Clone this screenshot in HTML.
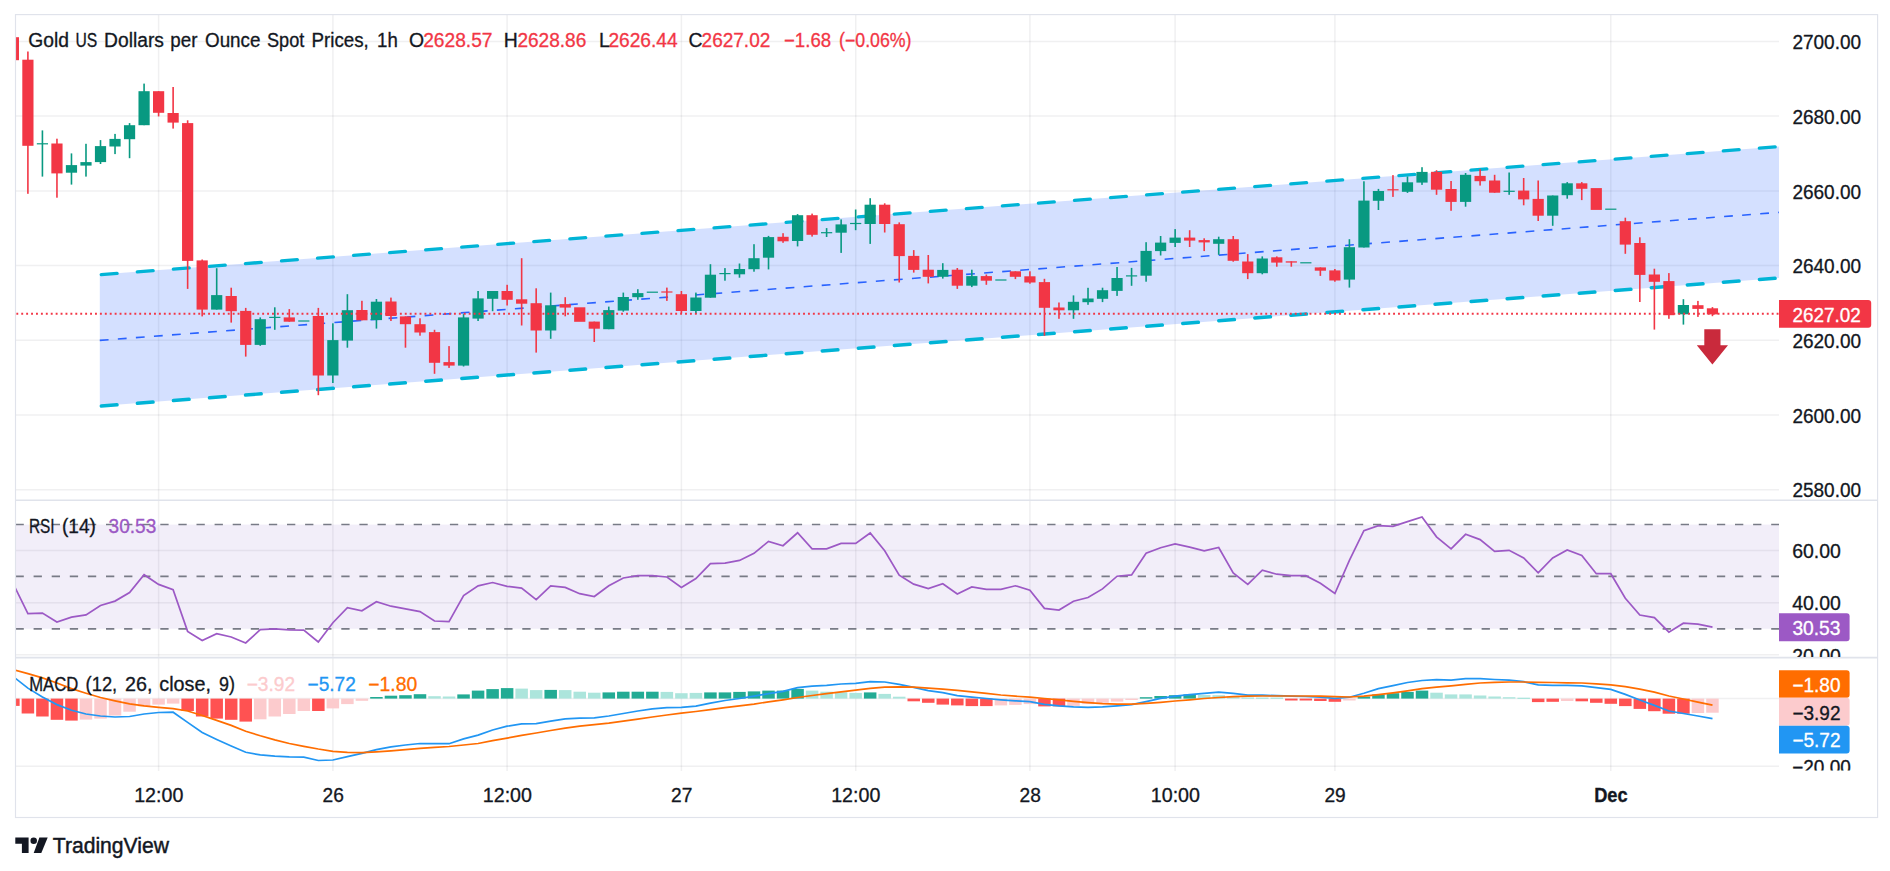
<!DOCTYPE html>
<html lang="en"><head><meta charset="utf-8"><title>Gold US Dollars per Ounce Spot Prices, 1h</title>
<style>html,body{margin:0;padding:0;background:#fff;overflow:hidden}svg{display:block}</style></head>
<body>
<svg width="1890" height="871" viewBox="0 0 1890 871" font-family="'Liberation Sans', Arial, sans-serif" font-size="19.4" fill="#131722">
<defs><clipPath id="cp"><rect x="15.0" y="14.3" width="1764.0" height="756.5"/></clipPath><clipPath id="cr"><rect x="1779.0" y="658.3" width="98.59999999999991" height="112.30000000000007"/></clipPath><clipPath id="cq"><rect x="1779.0" y="500" width="98.59999999999991" height="157.0"/></clipPath></defs>
<rect width="1890" height="871" fill="#fff"/>
<g stroke="#2a2e39" stroke-opacity="0.07" stroke-width="1.5">
<line x1="15.0" y1="41.4" x2="1779.0" y2="41.4"/>
<line x1="15.0" y1="116.1" x2="1779.0" y2="116.1"/>
<line x1="15.0" y1="190.9" x2="1779.0" y2="190.9"/>
<line x1="15.0" y1="265.6" x2="1779.0" y2="265.6"/>
<line x1="15.0" y1="340.3" x2="1779.0" y2="340.3"/>
<line x1="15.0" y1="415.0" x2="1779.0" y2="415.0"/>
<line x1="15.0" y1="489.7" x2="1779.0" y2="489.7"/>
<line x1="15.0" y1="550.6" x2="1779.0" y2="550.6"/>
<line x1="15.0" y1="602.7" x2="1779.0" y2="602.7"/>
<line x1="15.0" y1="654.8" x2="1779.0" y2="654.8"/>
<line x1="15.0" y1="698.4" x2="1779.0" y2="698.4"/>
<line x1="15.0" y1="766.2" x2="1779.0" y2="766.2"/>
<line x1="158.6" y1="14.3" x2="158.6" y2="771"/>
<line x1="332.9" y1="14.3" x2="332.9" y2="771"/>
<line x1="507.1" y1="14.3" x2="507.1" y2="771"/>
<line x1="681.4" y1="14.3" x2="681.4" y2="771"/>
<line x1="855.7" y1="14.3" x2="855.7" y2="771"/>
<line x1="1029.9" y1="14.3" x2="1029.9" y2="771"/>
<line x1="1175.1" y1="14.3" x2="1175.1" y2="771"/>
<line x1="1334.9" y1="14.3" x2="1334.9" y2="771"/>
<line x1="1610.8" y1="14.3" x2="1610.8" y2="771"/>
</g>
<g clip-path="url(#cp)">
<rect x="15.0" y="524.6" width="1764.0" height="104.19999999999993" fill="#7e57c2" fill-opacity="0.1"/>
<g stroke="#787b86" stroke-width="1.7" stroke-dasharray="8.3 9.8">
<line x1="15.5" y1="524.5" x2="1779.0" y2="524.5"/>
<line x1="15.5" y1="576.3" x2="1779.0" y2="576.3"/>
<line x1="15.5" y1="628.8" x2="1779.0" y2="628.8"/>
</g>
<polygon points="99.8,274.6 1779.0,146.58 1779.0,277.98 99.8,406.0" fill="#2962ff" fill-opacity="0.2"/>
<g stroke="#00b4d6" stroke-width="3.4" stroke-linecap="round" stroke-dasharray="15.8 20.35">
<line x1="101.3" y1="274.6" x2="1779.0" y2="146.58"/>
<line x1="101.3" y1="406.0" x2="1779.0" y2="277.98"/>
</g>
<line x1="99.8" y1="340.4" x2="1779.0" y2="212.38" stroke="#2962ff" stroke-width="1.6" stroke-dasharray="8.8 9.3"/>
<g fill="#f23645">
<rect x="7.78" y="37.2" width="11.2" height="23.0"/>
<rect x="27.10" y="51.5" width="1.6" height="142.3"/>
<rect x="22.30" y="59.7" width="11.2" height="86.1"/>
<rect x="56.15" y="138.7" width="1.6" height="59.0"/>
<rect x="51.35" y="143.5" width="11.2" height="29.9"/>
<rect x="157.80" y="91.2" width="1.6" height="25.2"/>
<rect x="153.00" y="91.2" width="11.2" height="21.6"/>
<rect x="172.32" y="87.0" width="1.6" height="41.6"/>
<rect x="167.52" y="113.0" width="11.2" height="9.6"/>
<rect x="186.84" y="120.3" width="1.6" height="168.6"/>
<rect x="182.04" y="123.1" width="11.2" height="137.8"/>
<rect x="201.37" y="259.5" width="1.6" height="56.9"/>
<rect x="196.57" y="260.4" width="11.2" height="49.2"/>
<rect x="230.41" y="287.7" width="1.6" height="34.9"/>
<rect x="225.61" y="296.0" width="11.2" height="15.2"/>
<rect x="244.93" y="307.9" width="1.6" height="48.7"/>
<rect x="240.13" y="310.9" width="11.2" height="34.0"/>
<rect x="288.50" y="309.1" width="1.6" height="12.6"/>
<rect x="283.70" y="317.4" width="11.2" height="4.3"/>
<rect x="317.54" y="307.9" width="1.6" height="87.3"/>
<rect x="312.74" y="316.0" width="11.2" height="59.5"/>
<rect x="361.11" y="300.8" width="1.6" height="19.5"/>
<rect x="356.31" y="310.0" width="11.2" height="10.3"/>
<rect x="390.15" y="297.6" width="1.6" height="23.4"/>
<rect x="385.35" y="301.5" width="11.2" height="14.5"/>
<rect x="404.67" y="316.4" width="1.6" height="31.3"/>
<rect x="399.87" y="316.4" width="11.2" height="7.8"/>
<rect x="419.20" y="318.3" width="1.6" height="17.4"/>
<rect x="414.40" y="324.2" width="11.2" height="8.3"/>
<rect x="433.72" y="329.8" width="1.6" height="44.0"/>
<rect x="428.92" y="332.1" width="11.2" height="30.7"/>
<rect x="448.24" y="346.1" width="1.6" height="21.8"/>
<rect x="443.44" y="362.1" width="11.2" height="3.5"/>
<rect x="506.33" y="284.8" width="1.6" height="20.7"/>
<rect x="501.53" y="291.0" width="11.2" height="8.8"/>
<rect x="520.85" y="258.2" width="1.6" height="67.3"/>
<rect x="516.05" y="299.3" width="11.2" height="4.4"/>
<rect x="535.37" y="288.3" width="1.6" height="64.3"/>
<rect x="530.57" y="303.2" width="11.2" height="27.3"/>
<rect x="564.42" y="297.2" width="1.6" height="19.1"/>
<rect x="559.62" y="304.1" width="11.2" height="3.5"/>
<rect x="574.14" y="307.3" width="11.2" height="14.5"/>
<rect x="593.46" y="321.6" width="1.6" height="20.4"/>
<rect x="588.66" y="321.6" width="11.2" height="7.1"/>
<rect x="666.07" y="287.6" width="1.6" height="13.3"/>
<rect x="661.27" y="291.4" width="11.2" height="1.2"/>
<rect x="680.59" y="291.0" width="1.6" height="22.3"/>
<rect x="675.79" y="294.2" width="11.2" height="16.8"/>
<rect x="782.25" y="233.2" width="1.6" height="9.6"/>
<rect x="777.45" y="236.8" width="11.2" height="4.5"/>
<rect x="811.29" y="213.6" width="1.6" height="23.0"/>
<rect x="806.49" y="215.2" width="11.2" height="19.6"/>
<rect x="883.90" y="203.3" width="1.6" height="29.2"/>
<rect x="879.10" y="204.7" width="11.2" height="19.3"/>
<rect x="898.42" y="222.4" width="1.6" height="60.1"/>
<rect x="893.62" y="224.2" width="11.2" height="31.9"/>
<rect x="912.94" y="250.1" width="1.6" height="22.5"/>
<rect x="908.14" y="255.9" width="11.2" height="14.0"/>
<rect x="927.47" y="255.0" width="1.6" height="28.4"/>
<rect x="922.67" y="269.7" width="11.2" height="7.1"/>
<rect x="956.51" y="268.0" width="1.6" height="20.9"/>
<rect x="951.71" y="269.7" width="11.2" height="16.0"/>
<rect x="985.55" y="274.5" width="1.6" height="10.3"/>
<rect x="980.75" y="276.1" width="11.2" height="4.6"/>
<rect x="1014.60" y="271.3" width="1.6" height="7.8"/>
<rect x="1009.80" y="271.3" width="11.2" height="5.5"/>
<rect x="1029.12" y="271.3" width="1.6" height="12.4"/>
<rect x="1024.32" y="276.3" width="11.2" height="6.2"/>
<rect x="1043.64" y="278.8" width="1.6" height="57.0"/>
<rect x="1038.84" y="282.1" width="11.2" height="25.7"/>
<rect x="1058.16" y="302.5" width="1.6" height="16.3"/>
<rect x="1053.36" y="307.5" width="11.2" height="2.8"/>
<rect x="1188.86" y="230.2" width="1.6" height="16.8"/>
<rect x="1184.06" y="237.6" width="11.2" height="3.0"/>
<rect x="1203.38" y="238.3" width="1.6" height="12.8"/>
<rect x="1198.58" y="240.1" width="11.2" height="2.3"/>
<rect x="1232.43" y="236.0" width="1.6" height="25.7"/>
<rect x="1227.63" y="239.2" width="11.2" height="21.6"/>
<rect x="1246.95" y="254.1" width="1.6" height="25.0"/>
<rect x="1242.15" y="261.5" width="11.2" height="11.7"/>
<rect x="1275.99" y="256.4" width="1.6" height="10.3"/>
<rect x="1271.19" y="257.3" width="11.2" height="5.3"/>
<rect x="1290.52" y="261.3" width="1.6" height="5.4"/>
<rect x="1285.72" y="261.3" width="11.2" height="1.3"/>
<rect x="1319.56" y="267.4" width="1.6" height="8.5"/>
<rect x="1314.76" y="267.4" width="11.2" height="3.3"/>
<rect x="1334.08" y="269.0" width="1.6" height="12.7"/>
<rect x="1329.28" y="270.4" width="11.2" height="10.1"/>
<rect x="1392.17" y="175.1" width="1.6" height="21.8"/>
<rect x="1387.37" y="189.2" width="11.2" height="1.2"/>
<rect x="1435.74" y="170.2" width="1.6" height="24.6"/>
<rect x="1430.94" y="171.8" width="11.2" height="17.9"/>
<rect x="1450.26" y="181.0" width="1.6" height="29.8"/>
<rect x="1445.46" y="189.0" width="11.2" height="12.9"/>
<rect x="1479.30" y="169.1" width="1.6" height="16.5"/>
<rect x="1474.50" y="175.9" width="11.2" height="5.3"/>
<rect x="1493.82" y="174.8" width="1.6" height="17.9"/>
<rect x="1489.02" y="180.5" width="11.2" height="12.2"/>
<rect x="1522.87" y="178.0" width="1.6" height="27.3"/>
<rect x="1518.07" y="190.6" width="11.2" height="8.8"/>
<rect x="1537.39" y="180.5" width="1.6" height="40.5"/>
<rect x="1532.59" y="198.9" width="11.2" height="16.8"/>
<rect x="1580.96" y="182.1" width="1.6" height="18.0"/>
<rect x="1576.16" y="183.3" width="11.2" height="5.5"/>
<rect x="1590.68" y="188.1" width="11.2" height="21.8"/>
<rect x="1624.52" y="217.7" width="1.6" height="36.1"/>
<rect x="1619.72" y="221.2" width="11.2" height="23.4"/>
<rect x="1639.04" y="237.3" width="1.6" height="64.7"/>
<rect x="1634.24" y="243.0" width="11.2" height="31.9"/>
<rect x="1653.57" y="268.7" width="1.6" height="60.9"/>
<rect x="1648.77" y="274.5" width="11.2" height="7.3"/>
<rect x="1668.09" y="273.1" width="1.6" height="45.7"/>
<rect x="1663.29" y="281.1" width="11.2" height="34.1"/>
<rect x="1697.13" y="300.9" width="1.6" height="16.0"/>
<rect x="1692.33" y="305.2" width="11.2" height="3.7"/>
<rect x="1711.65" y="307.1" width="1.6" height="9.1"/>
<rect x="1706.85" y="308.3" width="11.2" height="6.1"/>
</g>
<g fill="#089981">
<rect x="41.62" y="130.4" width="1.6" height="46.2"/>
<rect x="36.82" y="143.2" width="11.2" height="1.2"/>
<rect x="70.67" y="153.4" width="1.6" height="31.2"/>
<rect x="65.87" y="165.1" width="11.2" height="7.6"/>
<rect x="85.19" y="143.8" width="1.6" height="32.8"/>
<rect x="80.39" y="162.1" width="11.2" height="3.5"/>
<rect x="99.71" y="140.1" width="1.6" height="23.9"/>
<rect x="94.91" y="146.1" width="11.2" height="16.0"/>
<rect x="114.23" y="133.9" width="1.6" height="20.2"/>
<rect x="109.43" y="138.9" width="11.2" height="7.6"/>
<rect x="128.76" y="123.1" width="1.6" height="35.1"/>
<rect x="123.96" y="125.2" width="11.2" height="14.0"/>
<rect x="143.28" y="83.6" width="1.6" height="41.6"/>
<rect x="138.48" y="91.2" width="11.2" height="34.0"/>
<rect x="215.89" y="268.2" width="1.6" height="41.4"/>
<rect x="211.09" y="295.1" width="11.2" height="14.5"/>
<rect x="259.45" y="317.4" width="1.6" height="28.4"/>
<rect x="254.65" y="319.2" width="11.2" height="25.7"/>
<rect x="273.98" y="307.3" width="1.6" height="22.5"/>
<rect x="269.18" y="316.8" width="11.2" height="1.2"/>
<rect x="298.22" y="320.4" width="11.2" height="1.2"/>
<rect x="332.06" y="323.3" width="1.6" height="59.7"/>
<rect x="327.26" y="340.1" width="11.2" height="35.4"/>
<rect x="346.59" y="294.2" width="1.6" height="53.5"/>
<rect x="341.79" y="310.2" width="11.2" height="30.4"/>
<rect x="375.63" y="299.0" width="1.6" height="29.6"/>
<rect x="370.83" y="301.7" width="11.2" height="18.4"/>
<rect x="462.76" y="314.1" width="1.6" height="52.4"/>
<rect x="457.96" y="317.4" width="11.2" height="48.2"/>
<rect x="477.28" y="291.0" width="1.6" height="30.0"/>
<rect x="472.48" y="298.4" width="11.2" height="20.2"/>
<rect x="491.81" y="291.0" width="1.6" height="20.2"/>
<rect x="487.01" y="291.0" width="11.2" height="7.8"/>
<rect x="549.89" y="292.6" width="1.6" height="46.2"/>
<rect x="545.09" y="305.3" width="11.2" height="25.2"/>
<rect x="607.98" y="306.6" width="1.6" height="22.6"/>
<rect x="603.18" y="310.1" width="11.2" height="19.1"/>
<rect x="622.50" y="292.6" width="1.6" height="19.1"/>
<rect x="617.70" y="297.0" width="11.2" height="13.6"/>
<rect x="637.03" y="289.2" width="1.6" height="10.6"/>
<rect x="632.23" y="293.1" width="11.2" height="4.1"/>
<rect x="646.75" y="291.6" width="11.2" height="1.2"/>
<rect x="695.11" y="292.6" width="1.6" height="21.4"/>
<rect x="690.31" y="297.5" width="11.2" height="13.5"/>
<rect x="709.64" y="264.2" width="1.6" height="33.5"/>
<rect x="704.84" y="274.7" width="11.2" height="23.0"/>
<rect x="724.16" y="268.1" width="1.6" height="12.6"/>
<rect x="719.36" y="273.0" width="11.2" height="1.2"/>
<rect x="738.68" y="263.5" width="1.6" height="14.2"/>
<rect x="733.88" y="269.0" width="11.2" height="5.3"/>
<rect x="753.20" y="244.2" width="1.6" height="27.5"/>
<rect x="748.40" y="258.2" width="11.2" height="11.0"/>
<rect x="767.72" y="235.9" width="1.6" height="33.5"/>
<rect x="762.92" y="237.1" width="11.2" height="20.6"/>
<rect x="796.77" y="214.1" width="1.6" height="32.3"/>
<rect x="791.97" y="215.2" width="11.2" height="25.8"/>
<rect x="825.81" y="228.1" width="1.6" height="8.9"/>
<rect x="821.01" y="232.1" width="11.2" height="1.2"/>
<rect x="840.33" y="219.4" width="1.6" height="33.5"/>
<rect x="835.53" y="224.4" width="11.2" height="8.3"/>
<rect x="854.86" y="209.5" width="1.6" height="20.7"/>
<rect x="850.06" y="222.9" width="11.2" height="1.2"/>
<rect x="869.38" y="198.2" width="1.6" height="45.7"/>
<rect x="864.58" y="204.7" width="11.2" height="19.3"/>
<rect x="941.99" y="263.2" width="1.6" height="15.4"/>
<rect x="937.19" y="269.9" width="11.2" height="6.9"/>
<rect x="971.03" y="269.7" width="1.6" height="17.4"/>
<rect x="966.23" y="276.1" width="11.2" height="9.6"/>
<rect x="995.28" y="279.4" width="11.2" height="1.2"/>
<rect x="1072.69" y="295.4" width="1.6" height="23.4"/>
<rect x="1067.89" y="301.8" width="11.2" height="8.5"/>
<rect x="1087.21" y="287.8" width="1.6" height="17.0"/>
<rect x="1082.41" y="298.5" width="11.2" height="3.7"/>
<rect x="1101.73" y="287.7" width="1.6" height="14.4"/>
<rect x="1096.93" y="290.2" width="11.2" height="8.6"/>
<rect x="1116.25" y="267.0" width="1.6" height="28.9"/>
<rect x="1111.45" y="278.0" width="11.2" height="12.9"/>
<rect x="1130.77" y="267.9" width="1.6" height="17.9"/>
<rect x="1125.97" y="275.3" width="11.2" height="1.2"/>
<rect x="1145.30" y="242.2" width="1.6" height="39.5"/>
<rect x="1140.50" y="250.9" width="11.2" height="24.8"/>
<rect x="1159.82" y="236.0" width="1.6" height="19.5"/>
<rect x="1155.02" y="242.6" width="11.2" height="8.5"/>
<rect x="1174.34" y="229.1" width="1.6" height="17.9"/>
<rect x="1169.54" y="237.6" width="11.2" height="5.3"/>
<rect x="1217.91" y="236.7" width="1.6" height="18.1"/>
<rect x="1213.11" y="239.2" width="11.2" height="4.6"/>
<rect x="1261.47" y="256.4" width="1.6" height="17.9"/>
<rect x="1256.67" y="258.5" width="11.2" height="14.7"/>
<rect x="1300.24" y="262.2" width="11.2" height="1.2"/>
<rect x="1348.60" y="239.2" width="1.6" height="48.4"/>
<rect x="1343.80" y="247.2" width="11.2" height="32.4"/>
<rect x="1363.13" y="181.3" width="1.6" height="66.2"/>
<rect x="1358.33" y="200.6" width="11.2" height="46.9"/>
<rect x="1377.65" y="188.9" width="1.6" height="21.1"/>
<rect x="1372.85" y="191.0" width="11.2" height="9.8"/>
<rect x="1406.69" y="176.5" width="1.6" height="16.4"/>
<rect x="1401.89" y="182.3" width="11.2" height="9.5"/>
<rect x="1421.21" y="167.2" width="1.6" height="17.7"/>
<rect x="1416.41" y="171.9" width="11.2" height="10.7"/>
<rect x="1464.78" y="173.0" width="1.6" height="33.7"/>
<rect x="1459.98" y="174.8" width="11.2" height="27.1"/>
<rect x="1508.35" y="172.5" width="1.6" height="22.3"/>
<rect x="1503.55" y="190.7" width="11.2" height="1.2"/>
<rect x="1551.91" y="195.5" width="1.6" height="30.3"/>
<rect x="1547.11" y="195.5" width="11.2" height="20.2"/>
<rect x="1566.43" y="182.1" width="1.6" height="16.6"/>
<rect x="1561.63" y="183.3" width="11.2" height="11.9"/>
<rect x="1605.20" y="208.6" width="11.2" height="1.2"/>
<rect x="1682.61" y="299.2" width="1.6" height="25.4"/>
<rect x="1677.81" y="305.0" width="11.2" height="9.3"/>
</g>
<line x1="16.34" y1="313.8" x2="1779.0" y2="313.8" stroke="#f23645" stroke-width="1.9" stroke-dasharray="1.9 3.017"/>
<polygon points="1704.3000000000002,329.2 1720.5,329.2 1720.5,345.2 1728.0,345.2 1712.4,364.6 1696.8000000000002,345.2 1704.3000000000002,345.2" fill="#c92a3c"/>
<polyline points="13.4,584.1 27.9,613.6 42.4,613.1 56.9,622.0 71.5,617.1 86.0,614.9 100.5,605.5 115.0,601.1 129.6,592.5 144.1,574.7 158.6,584.4 173.1,589.7 187.6,631.4 202.2,640.5 216.7,633.7 231.2,637.0 245.7,643.0 260.3,629.6 274.8,628.8 289.3,629.8 303.8,630.1 318.3,642.0 332.9,622.7 347.4,607.7 361.9,610.8 376.4,601.7 391.0,606.2 405.5,608.8 420.0,611.6 434.5,621.0 449.0,621.7 463.6,595.6 478.1,585.8 492.6,582.5 507.1,586.3 521.6,588.1 536.2,599.6 550.7,585.8 565.2,587.4 579.7,593.7 594.3,596.5 608.8,585.8 623.3,578.0 637.8,575.7 652.3,575.7 666.9,577.0 681.4,587.4 695.9,578.5 710.4,563.7 725.0,563.2 739.5,560.4 754.0,553.3 768.5,541.4 783.0,545.7 797.6,532.8 812.1,548.8 826.6,548.8 841.1,543.4 855.7,543.4 870.2,533.0 884.7,550.8 899.2,575.2 913.7,584.1 928.3,588.6 942.8,583.8 957.3,594.0 971.8,586.9 986.4,589.4 1000.9,589.4 1015.4,585.8 1029.9,590.2 1044.4,608.4 1059.0,610.0 1073.5,601.3 1088.0,597.5 1102.5,588.9 1117.1,576.2 1131.6,574.9 1146.1,553.3 1160.6,547.7 1175.1,543.9 1189.7,547.2 1204.2,550.8 1218.7,547.5 1233.2,572.9 1247.8,584.3 1262.3,570.1 1276.8,574.2 1291.3,575.7 1305.8,575.7 1320.4,583.3 1334.9,593.5 1349.4,560.4 1363.9,530.7 1378.4,525.7 1393.0,526.4 1407.5,521.6 1422.0,517.0 1436.5,536.8 1451.1,548.8 1465.6,534.3 1480.1,539.6 1494.6,551.3 1509.1,550.3 1523.7,557.9 1538.2,572.9 1552.7,557.9 1567.2,550.0 1581.8,555.4 1596.3,573.7 1610.8,573.7 1625.3,598.3 1639.8,615.0 1654.4,617.6 1668.9,632.1 1683.4,623.2 1697.9,624.2 1712.5,627.2" fill="none" stroke="#9c59c5" stroke-width="1.7" stroke-linejoin="miter" stroke-miterlimit="3"/>
<g fill="#ff5252">
<rect x="7.13" y="698.6" width="12.5" height="7.3"/>
<rect x="21.65" y="698.6" width="12.5" height="14.9"/>
<rect x="36.17" y="698.6" width="12.5" height="17.9"/>
<rect x="50.70" y="698.6" width="12.5" height="21.2"/>
<rect x="65.22" y="698.6" width="12.5" height="22.0"/>
<rect x="181.39" y="698.6" width="12.5" height="12.4"/>
<rect x="195.92" y="698.6" width="12.5" height="17.9"/>
<rect x="210.44" y="698.6" width="12.5" height="20.0"/>
<rect x="224.96" y="698.6" width="12.5" height="21.2"/>
<rect x="239.48" y="698.6" width="12.5" height="23.0"/>
<rect x="312.09" y="698.6" width="12.5" height="12.4"/>
<rect x="907.49" y="698.6" width="12.5" height="2.7"/>
<rect x="922.02" y="698.6" width="12.5" height="4.2"/>
<rect x="936.54" y="698.6" width="12.5" height="6.0"/>
<rect x="951.06" y="698.6" width="12.5" height="6.8"/>
<rect x="965.58" y="698.6" width="12.5" height="7.5"/>
<rect x="980.10" y="698.6" width="12.5" height="7.5"/>
<rect x="1038.19" y="698.6" width="12.5" height="7.8"/>
<rect x="1052.71" y="698.6" width="12.5" height="7.8"/>
<rect x="1285.07" y="698.6" width="12.5" height="1.9"/>
<rect x="1299.59" y="698.6" width="12.5" height="1.9"/>
<rect x="1314.11" y="698.6" width="12.5" height="2.4"/>
<rect x="1328.63" y="698.6" width="12.5" height="3.2"/>
<rect x="1531.94" y="698.6" width="12.5" height="3.5"/>
<rect x="1546.46" y="698.6" width="12.5" height="3.2"/>
<rect x="1575.51" y="698.6" width="12.5" height="2.7"/>
<rect x="1590.03" y="698.6" width="12.5" height="4.2"/>
<rect x="1604.55" y="698.6" width="12.5" height="5.2"/>
<rect x="1619.07" y="698.6" width="12.5" height="7.5"/>
<rect x="1633.59" y="698.6" width="12.5" height="10.3"/>
<rect x="1648.12" y="698.6" width="12.5" height="12.6"/>
<rect x="1662.64" y="698.6" width="12.5" height="15.1"/>
<rect x="1677.16" y="698.6" width="12.5" height="15.1"/>
</g>
<g fill="#fccbcd">
<rect x="79.74" y="698.6" width="12.5" height="21.0"/>
<rect x="94.26" y="698.6" width="12.5" height="20.0"/>
<rect x="108.78" y="698.6" width="12.5" height="16.9"/>
<rect x="123.31" y="698.6" width="12.5" height="13.1"/>
<rect x="137.83" y="698.6" width="12.5" height="7.8"/>
<rect x="152.35" y="698.6" width="12.5" height="6.0"/>
<rect x="166.87" y="698.6" width="12.5" height="5.0"/>
<rect x="254.00" y="698.6" width="12.5" height="20.7"/>
<rect x="268.53" y="698.6" width="12.5" height="17.9"/>
<rect x="283.05" y="698.6" width="12.5" height="15.4"/>
<rect x="297.57" y="698.6" width="12.5" height="12.4"/>
<rect x="326.61" y="698.6" width="12.5" height="9.8"/>
<rect x="341.14" y="698.6" width="12.5" height="5.5"/>
<rect x="355.66" y="698.6" width="12.5" height="2.2"/>
<rect x="994.63" y="698.6" width="12.5" height="6.8"/>
<rect x="1009.15" y="698.6" width="12.5" height="6.3"/>
<rect x="1023.67" y="698.6" width="12.5" height="5.5"/>
<rect x="1067.24" y="698.6" width="12.5" height="7.3"/>
<rect x="1081.76" y="698.6" width="12.5" height="5.5"/>
<rect x="1096.28" y="698.6" width="12.5" height="4.2"/>
<rect x="1110.80" y="698.6" width="12.5" height="3.0"/>
<rect x="1125.32" y="698.6" width="12.5" height="1.4"/>
<rect x="1343.15" y="698.6" width="12.5" height="1.9"/>
<rect x="1560.98" y="698.6" width="12.5" height="2.4"/>
<rect x="1691.68" y="698.6" width="12.5" height="14.4"/>
<rect x="1706.20" y="698.6" width="12.5" height="14.1"/>
</g>
<g fill="#22ab94">
<rect x="370.18" y="697.0" width="12.5" height="1.6"/>
<rect x="384.70" y="695.7" width="12.5" height="2.9"/>
<rect x="399.22" y="695.2" width="12.5" height="3.4"/>
<rect x="413.75" y="694.2" width="12.5" height="4.4"/>
<rect x="457.31" y="694.4" width="12.5" height="4.2"/>
<rect x="471.83" y="690.6" width="12.5" height="8.0"/>
<rect x="486.36" y="689.1" width="12.5" height="9.5"/>
<rect x="500.88" y="688.1" width="12.5" height="10.5"/>
<rect x="544.44" y="689.9" width="12.5" height="8.7"/>
<rect x="602.53" y="692.4" width="12.5" height="6.2"/>
<rect x="617.05" y="691.7" width="12.5" height="6.9"/>
<rect x="631.58" y="691.7" width="12.5" height="6.9"/>
<rect x="646.10" y="691.7" width="12.5" height="6.9"/>
<rect x="704.19" y="692.4" width="12.5" height="6.2"/>
<rect x="718.71" y="692.4" width="12.5" height="6.2"/>
<rect x="733.23" y="691.9" width="12.5" height="6.7"/>
<rect x="747.75" y="691.4" width="12.5" height="7.2"/>
<rect x="762.27" y="690.6" width="12.5" height="8.0"/>
<rect x="776.80" y="690.6" width="12.5" height="8.0"/>
<rect x="791.32" y="688.9" width="12.5" height="9.7"/>
<rect x="863.93" y="692.4" width="12.5" height="6.2"/>
<rect x="1139.85" y="697.2" width="12.5" height="1.4"/>
<rect x="1154.37" y="696.0" width="12.5" height="2.6"/>
<rect x="1168.89" y="695.2" width="12.5" height="3.4"/>
<rect x="1183.41" y="694.4" width="12.5" height="4.2"/>
<rect x="1357.68" y="696.5" width="12.5" height="2.1"/>
<rect x="1372.20" y="694.4" width="12.5" height="4.2"/>
<rect x="1386.72" y="693.2" width="12.5" height="5.4"/>
<rect x="1401.24" y="691.9" width="12.5" height="6.7"/>
<rect x="1415.76" y="690.6" width="12.5" height="8.0"/>
</g>
<g fill="#ace5dc">
<rect x="428.27" y="696.2" width="12.5" height="2.4"/>
<rect x="442.79" y="696.5" width="12.5" height="2.1"/>
<rect x="515.40" y="688.6" width="12.5" height="10.0"/>
<rect x="529.92" y="690.1" width="12.5" height="8.5"/>
<rect x="558.97" y="690.1" width="12.5" height="8.5"/>
<rect x="573.49" y="691.7" width="12.5" height="6.9"/>
<rect x="588.01" y="692.7" width="12.5" height="5.9"/>
<rect x="660.62" y="691.9" width="12.5" height="6.7"/>
<rect x="675.14" y="693.2" width="12.5" height="5.4"/>
<rect x="689.66" y="692.9" width="12.5" height="5.7"/>
<rect x="805.84" y="690.6" width="12.5" height="8.0"/>
<rect x="820.36" y="691.7" width="12.5" height="6.9"/>
<rect x="834.88" y="692.2" width="12.5" height="6.4"/>
<rect x="849.41" y="692.9" width="12.5" height="5.7"/>
<rect x="878.45" y="693.9" width="12.5" height="4.7"/>
<rect x="892.97" y="696.7" width="12.5" height="1.9"/>
<rect x="1197.93" y="695.0" width="12.5" height="3.6"/>
<rect x="1212.46" y="695.2" width="12.5" height="3.4"/>
<rect x="1226.98" y="696.5" width="12.5" height="2.1"/>
<rect x="1241.50" y="697.5" width="12.5" height="1.3"/>
<rect x="1256.02" y="697.6" width="12.5" height="1.3"/>
<rect x="1270.54" y="697.6" width="12.5" height="1.3"/>
<rect x="1430.29" y="692.7" width="12.5" height="5.9"/>
<rect x="1444.81" y="694.4" width="12.5" height="4.2"/>
<rect x="1459.33" y="694.4" width="12.5" height="4.2"/>
<rect x="1473.85" y="695.5" width="12.5" height="3.1"/>
<rect x="1488.37" y="696.5" width="12.5" height="2.1"/>
<rect x="1502.90" y="697.2" width="12.5" height="1.4"/>
<rect x="1517.42" y="697.7" width="12.5" height="1.3"/>
</g>
<polyline points="13.4,676.7 27.9,688.1 42.4,697.0 56.9,704.6 71.5,710.2 86.0,714.0 100.5,716.0 115.0,717.0 129.6,716.5 144.1,714.0 158.6,712.5 173.1,712.2 187.6,722.4 202.2,732.5 216.7,739.4 231.2,746.0 245.7,752.3 260.3,754.9 274.8,756.2 289.3,756.9 303.8,757.2 318.3,760.5 332.9,760.0 347.4,756.7 361.9,753.4 376.4,749.6 391.0,746.8 405.5,745.0 420.0,743.5 434.5,743.7 449.0,743.7 463.6,738.9 478.1,735.1 492.6,730.0 507.1,726.2 521.6,723.9 536.2,723.7 550.7,721.1 565.2,718.8 579.7,718.1 594.3,717.8 608.8,716.0 623.3,713.5 637.8,711.0 652.3,708.9 666.9,707.7 681.4,707.4 695.9,706.1 710.4,703.1 725.0,700.5 739.5,698.5 754.0,696.2 768.5,693.7 783.0,691.4 797.6,687.6 812.1,686.1 826.6,685.3 841.1,684.0 855.7,683.3 870.2,681.7 884.7,682.0 899.2,684.3 913.7,687.3 928.3,690.6 942.8,692.7 957.3,695.7 971.8,697.2 986.4,698.5 1000.9,699.8 1015.4,700.8 1029.9,701.6 1044.4,704.3 1059.0,705.9 1073.5,706.9 1088.0,707.4 1102.5,706.9 1117.1,705.9 1131.6,704.6 1146.1,701.6 1160.6,698.3 1175.1,696.2 1189.7,694.7 1204.2,693.4 1218.7,692.2 1233.2,693.4 1247.8,695.2 1262.3,695.2 1276.8,695.7 1291.3,696.2 1305.8,696.5 1320.4,697.2 1334.9,698.3 1349.4,697.2 1363.9,693.2 1378.4,688.6 1393.0,685.6 1407.5,682.5 1422.0,680.5 1436.5,679.7 1451.1,680.2 1465.6,678.7 1480.1,678.7 1494.6,679.5 1509.1,680.2 1523.7,681.7 1538.2,684.8 1552.7,685.3 1567.2,685.3 1581.8,685.8 1596.3,687.6 1610.8,689.4 1625.3,694.4 1639.8,700.0 1654.4,705.4 1668.9,711.0 1683.4,713.5 1697.9,716.0 1712.5,718.6" fill="none" stroke="#2196f3" stroke-width="1.7" stroke-linejoin="miter" stroke-miterlimit="3"/>
<polyline points="13.4,669.8 27.9,673.6 42.4,677.9 56.9,683.0 71.5,688.6 86.0,693.2 100.5,697.5 115.0,700.8 129.6,703.8 144.1,705.9 158.6,707.4 173.1,708.7 187.6,711.0 202.2,715.5 216.7,720.4 231.2,725.4 245.7,731.3 260.3,735.8 274.8,739.9 289.3,743.5 303.8,746.3 318.3,749.0 332.9,751.3 347.4,752.4 361.9,752.6 376.4,751.8 391.0,750.8 405.5,749.6 420.0,748.3 434.5,747.3 449.0,746.5 463.6,745.0 478.1,743.5 492.6,740.7 507.1,738.1 521.6,735.3 536.2,733.0 550.7,730.5 565.2,728.2 579.7,726.2 594.3,724.7 608.8,723.1 623.3,721.1 637.8,719.1 652.3,717.0 666.9,715.0 681.4,713.2 695.9,711.5 710.4,709.7 725.0,707.7 739.5,705.9 754.0,704.1 768.5,701.8 783.0,699.8 797.6,697.5 812.1,695.5 826.6,693.7 841.1,691.9 855.7,690.1 870.2,688.4 884.7,687.1 899.2,686.8 913.7,687.1 928.3,688.1 942.8,689.2 957.3,690.4 971.8,691.9 986.4,693.4 1000.9,695.0 1015.4,696.2 1029.9,697.2 1044.4,698.5 1059.0,699.8 1073.5,701.3 1088.0,702.6 1102.5,703.6 1117.1,704.1 1131.6,704.1 1146.1,703.3 1160.6,702.3 1175.1,701.0 1189.7,699.8 1204.2,698.5 1218.7,697.5 1233.2,696.7 1247.8,696.2 1262.3,696.0 1276.8,696.0 1291.3,696.0 1305.8,696.0 1320.4,696.2 1334.9,696.7 1349.4,697.0 1363.9,696.2 1378.4,694.7 1393.0,692.9 1407.5,690.9 1422.0,688.6 1436.5,687.1 1451.1,685.8 1465.6,684.3 1480.1,683.0 1494.6,682.3 1509.1,682.0 1523.7,682.0 1538.2,682.3 1552.7,682.5 1567.2,682.8 1581.8,683.0 1596.3,683.8 1610.8,684.8 1625.3,686.6 1639.8,689.1 1654.4,692.2 1668.9,696.0 1683.4,699.0 1697.9,702.1 1712.5,705.1" fill="none" stroke="#ff6d00" stroke-width="1.7" stroke-linejoin="miter" stroke-miterlimit="3"/>
</g>
<rect x="15.5" y="14.600000000000001" width="1862.1" height="802.9" stroke="#e0e3eb" stroke-width="1.15" fill="none"/>
<g stroke="#e0e3eb" stroke-width="1.6" fill="none">
<line x1="15.0" y1="500.2" x2="1877.6" y2="500.2"/>
<line x1="15.0" y1="657.6" x2="1877.6" y2="657.6"/>
</g>
<g stroke="#131722" stroke-width="0.3">
<text x="28.3" y="46.6" textLength="40.7" lengthAdjust="spacingAndGlyphs">Gold</text>
<text x="75.5" y="46.6" textLength="21.8" lengthAdjust="spacingAndGlyphs">US</text>
<text x="104.1" y="46.6" textLength="59.9" lengthAdjust="spacingAndGlyphs">Dollars</text>
<text x="170.3" y="46.6" textLength="27.1" lengthAdjust="spacingAndGlyphs">per</text>
<text x="205.0" y="46.6" textLength="55.5" lengthAdjust="spacingAndGlyphs">Ounce</text>
<text x="267.0" y="46.6" textLength="37.3" lengthAdjust="spacingAndGlyphs">Spot</text>
<text x="311.5" y="46.6" textLength="57.3" lengthAdjust="spacingAndGlyphs">Prices,</text>
<text x="377.1" y="46.6" textLength="20.7" lengthAdjust="spacingAndGlyphs">1h</text>
<text x="416.5" y="46.6" text-anchor="middle">O</text>
<text x="423.2" y="46.6" textLength="69.3" lengthAdjust="spacingAndGlyphs" fill="#f23645" stroke="#f23645">2628.57</text>
<text x="510.8" y="46.6" text-anchor="middle">H</text>
<text x="517.4" y="46.6" textLength="68.9" lengthAdjust="spacingAndGlyphs" fill="#f23645" stroke="#f23645">2628.86</text>
<text x="604.4" y="46.6" text-anchor="middle">L</text>
<text x="608.4" y="46.6" textLength="69.2" lengthAdjust="spacingAndGlyphs" fill="#f23645" stroke="#f23645">2626.44</text>
<text x="695.5" y="46.6" text-anchor="middle">C</text>
<text x="701.6" y="46.6" textLength="68.7" lengthAdjust="spacingAndGlyphs" fill="#f23645" stroke="#f23645">2627.02</text>
<text x="784.0" y="46.6" textLength="47.1" lengthAdjust="spacingAndGlyphs" fill="#f23645" stroke="#f23645">−1.68</text>
<text x="839.0" y="46.6" textLength="72.5" lengthAdjust="spacingAndGlyphs" fill="#f23645" stroke="#f23645">(−0.06%)</text>
<text x="29.0" y="533.4" textLength="25.6" lengthAdjust="spacingAndGlyphs">RSI</text>
<text x="62.0" y="533.4" textLength="33.9" lengthAdjust="spacingAndGlyphs">(14)</text>
<text x="108.6" y="533.4" textLength="47.7" lengthAdjust="spacingAndGlyphs" fill="#9c59c5" stroke="#9c59c5">30.53</text>
<text x="29.2" y="690.7" textLength="49.0" lengthAdjust="spacingAndGlyphs">MACD</text>
<text x="85.6" y="690.7" textLength="31.6" lengthAdjust="spacingAndGlyphs">(12,</text>
<text x="125.0" y="690.7" textLength="27.4" lengthAdjust="spacingAndGlyphs">26,</text>
<text x="159.3" y="690.7" textLength="51.6" lengthAdjust="spacingAndGlyphs">close,</text>
<text x="219.0" y="690.7" textLength="16.0" lengthAdjust="spacingAndGlyphs">9)</text>
<text x="246.7" y="690.7" textLength="48.4" lengthAdjust="spacingAndGlyphs" fill="#fccbcd" stroke="#fccbcd">−3.92</text>
<text x="307.5" y="690.7" textLength="48.3" lengthAdjust="spacingAndGlyphs" fill="#2196f3" stroke="#2196f3">−5.72</text>
<text x="368.2" y="690.7" textLength="49.0" lengthAdjust="spacingAndGlyphs" fill="#ff6d00" stroke="#ff6d00">−1.80</text>
<text x="1792.4" y="49.1" textLength="68.7" lengthAdjust="spacingAndGlyphs">2700.00</text>
<text x="1792.4" y="123.8" textLength="68.7" lengthAdjust="spacingAndGlyphs">2680.00</text>
<text x="1792.4" y="198.6" textLength="68.7" lengthAdjust="spacingAndGlyphs">2660.00</text>
<text x="1792.4" y="273.3" textLength="68.7" lengthAdjust="spacingAndGlyphs">2640.00</text>
<text x="1792.4" y="348.0" textLength="68.7" lengthAdjust="spacingAndGlyphs">2620.00</text>
<text x="1792.4" y="422.7" textLength="68.7" lengthAdjust="spacingAndGlyphs">2600.00</text>
<text x="1792.4" y="497.4" textLength="68.7" lengthAdjust="spacingAndGlyphs">2580.00</text>
<g clip-path="url(#cq)">
<text x="1792.2" y="558.3000000000001" textLength="48.7" lengthAdjust="spacingAndGlyphs">60.00</text>
<text x="1792.2" y="610.4000000000001" textLength="48.7" lengthAdjust="spacingAndGlyphs">40.00</text>
<text x="1792.2" y="662.5" textLength="48.7" lengthAdjust="spacingAndGlyphs">20.00</text>
</g>
<g clip-path="url(#cr)">
<text x="1792.2" y="774.0" textLength="58.7" lengthAdjust="spacingAndGlyphs">−20.00</text>
</g>
<path d="M1779.0,300.0 H1868.2 Q1871.2,300.0 1871.2,303.0 V324.8 Q1871.2,327.8 1868.2,327.8 H1779.0 Z" fill="#f23645" stroke="none"/>
<text x="1792.4" y="321.7" textLength="68.5" lengthAdjust="spacingAndGlyphs" fill="#fff" stroke="#fff">2627.02</text>
<path d="M1779.0,613.2 H1846.6 Q1849.6,613.2 1849.6,616.2 V638.2 Q1849.6,641.2 1846.6,641.2 H1779.0 Z" fill="#9c59c5" stroke="none"/>
<text x="1792.4" y="635.0" textLength="48.1" lengthAdjust="spacingAndGlyphs" fill="#fff" stroke="#fff">30.53</text>
<path d="M1779.0,670.2 H1846.6 Q1849.6,670.2 1849.6,673.2 V694.8 Q1849.6,697.8 1846.6,697.8 H1779.0 Z" fill="#ff6d00" stroke="none"/>
<text x="1792.4" y="691.8" textLength="48.1" lengthAdjust="spacingAndGlyphs" fill="#fff" stroke="#fff">−1.80</text>
<path d="M1779.0,697.8 H1846.6 Q1849.6,697.8 1849.6,700.8 V722.7 Q1849.6,725.7 1846.6,725.7 H1779.0 Z" fill="#fccbcd" stroke="none"/>
<text x="1792.4" y="719.55" textLength="48.1" lengthAdjust="spacingAndGlyphs" fill="#131722" stroke="#131722">−3.92</text>
<path d="M1779.0,725.7 H1846.6 Q1849.6,725.7 1849.6,728.7 V750.6 Q1849.6,753.6 1846.6,753.6 H1779.0 Z" fill="#2196f3" stroke="none"/>
<text x="1792.4" y="747.45" textLength="48.1" lengthAdjust="spacingAndGlyphs" fill="#fff" stroke="#fff">−5.72</text>
<text x="134.2" y="801.8" textLength="49.2" lengthAdjust="spacingAndGlyphs">12:00</text>
<text x="322.5" y="801.8" textLength="21.3" lengthAdjust="spacingAndGlyphs">26</text>
<text x="482.8" y="801.8" textLength="49.2" lengthAdjust="spacingAndGlyphs">12:00</text>
<text x="671.0" y="801.8" textLength="21.3" lengthAdjust="spacingAndGlyphs">27</text>
<text x="831.2" y="801.8" textLength="49.2" lengthAdjust="spacingAndGlyphs">12:00</text>
<text x="1019.5" y="801.8" textLength="21.3" lengthAdjust="spacingAndGlyphs">28</text>
<text x="1150.8" y="801.8" textLength="49.2" lengthAdjust="spacingAndGlyphs">10:00</text>
<text x="1324.4" y="801.8" textLength="21.3" lengthAdjust="spacingAndGlyphs">29</text>
<text x="1594.2" y="801.8" textLength="33.5" lengthAdjust="spacingAndGlyphs" font-weight="bold">Dec</text>
</g>
<g fill="#131722">
<path d="M15.3,837.5 H28.6 V853 H21.9 V843.8 H15.3 Z"/>
<circle cx="33.7" cy="840.8" r="3.25"/>
<path d="M39.4,837.5 H47.7 L41.3,853 H33.7 Z"/>
</g>
<text x="52.8" y="853.3" font-size="21.2" textLength="116.2" lengthAdjust="spacingAndGlyphs" stroke="#131722" stroke-width="0.45">TradingView</text>
</svg>
</body></html>
